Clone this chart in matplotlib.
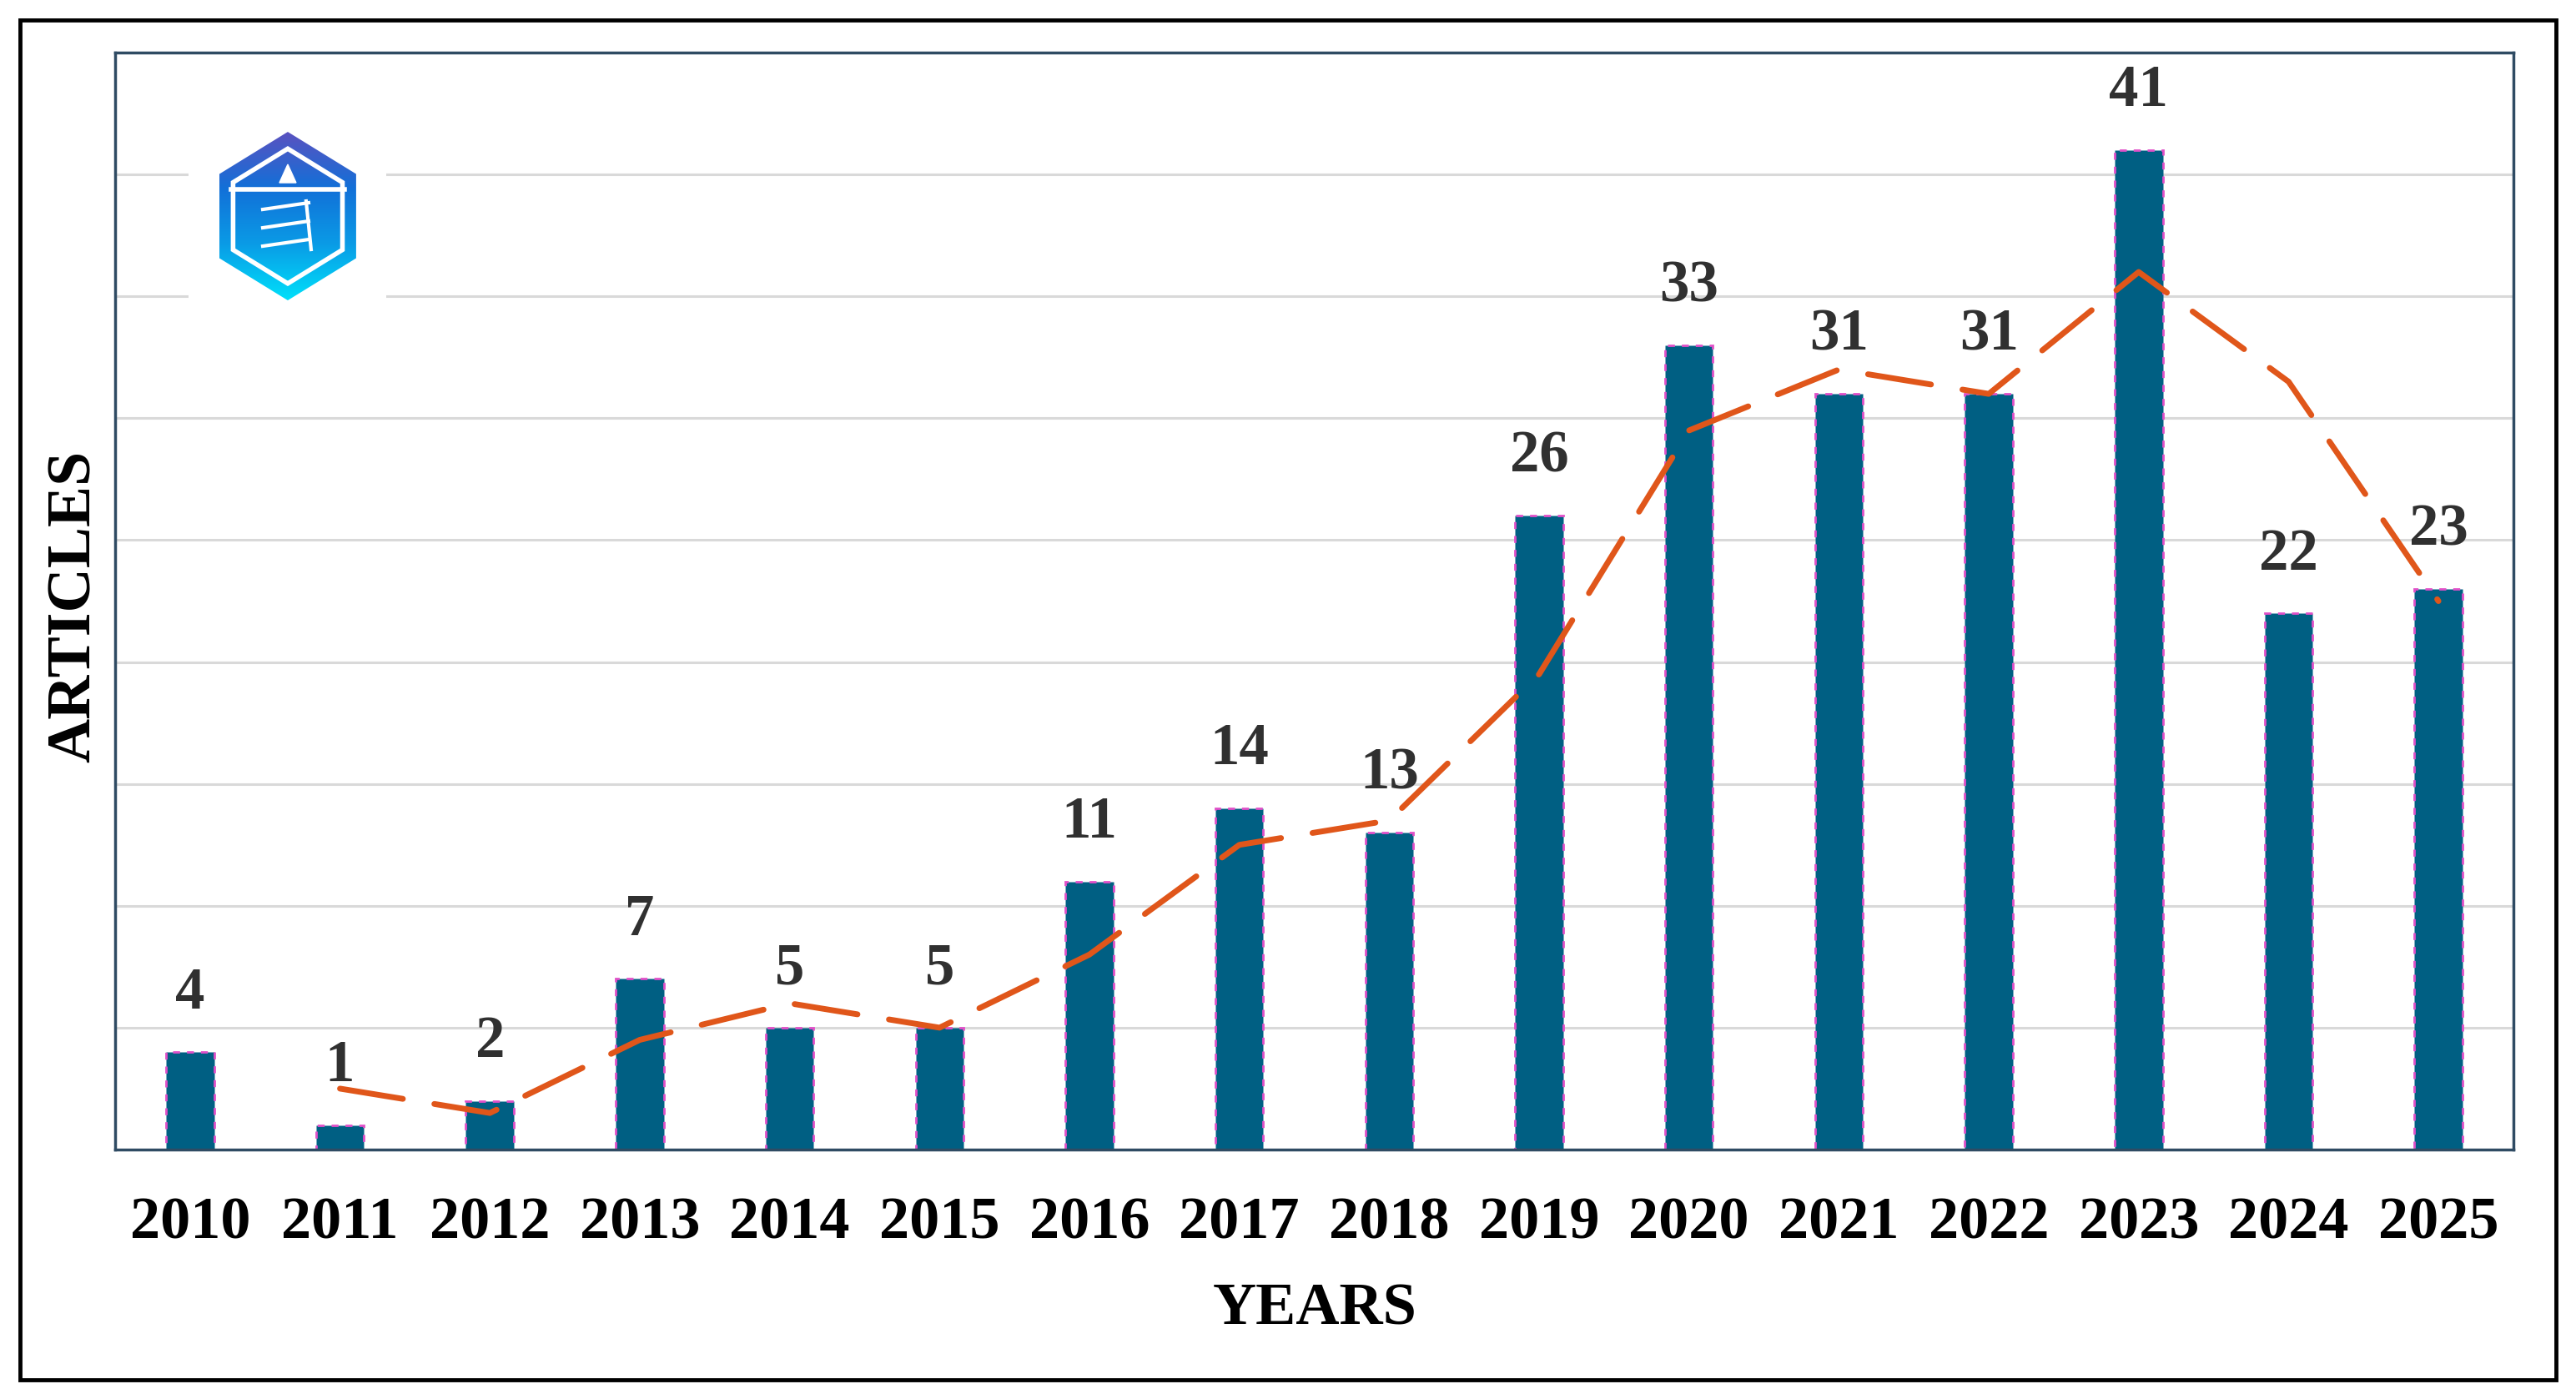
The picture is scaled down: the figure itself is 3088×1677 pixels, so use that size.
import numpy as np
import matplotlib.pyplot as plt
from matplotlib.patches import Rectangle, Polygon
from matplotlib.colors import LinearSegmentedColormap

years = ["2010", "2011", "2012", "2013", "2014", "2015", "2016", "2017",
         "2018", "2019", "2020", "2021", "2022", "2023", "2024", "2025"]
articles = [4, 1, 2, 7, 5, 5, 11, 14, 13, 26, 33, 31, 31, 41, 22, 23]
# 2-period moving average trend line (starts at 2011)
trend = [2.5, 1.5, 4.5, 6, 5, 8, 12.5, 13.5, 19.5, 29.5, 32, 31, 36, 31.5, 22.5]

serif = ["Liberation Serif", "DejaVu Serif"]
bar_color = "#005F83"
line_color = "#E0561A"
frame_color = "#2F4B63"

fig = plt.figure(figsize=(30.88, 16.77), dpi=100)
ax = fig.add_axes([0.0447, 0.1783, 0.931, 0.7841])

xs = np.arange(len(years))
ax.bar(xs, articles, width=0.32, color=bar_color, edgecolor="#E050C8",
       linewidth=2, linestyle=(0, (3, 3)), zorder=2)
ax.plot(xs[1:], trend, color=line_color, linewidth=5,
        linestyle=(0, (11, 5.5)), zorder=3, dash_capstyle="round")

for x, v in zip(xs, articles):
    ax.annotate(str(v), (x, v), xytext=(0, 27), textcoords="offset points",
                ha="center", va="bottom", fontsize=51, fontweight="bold",
                family=serif, color="#303030", zorder=4)

ax.set_xlim(-0.5, len(years) - 0.5)
ax.set_ylim(0, 45)
ax.set_yticks(range(5, 45, 5))
ax.yaxis.grid(True, color="#D9D9D9", linewidth=2.2, zorder=0)
ax.set_axisbelow(True)
ax.tick_params(axis="y", length=0, labelleft=False)
ax.set_xticks(xs)
ax.set_xticklabels(years, fontsize=52, fontweight="bold", family=serif)
ax.tick_params(axis="x", length=0, pad=41)
for s in ax.spines.values():
    s.set_color(frame_color)
    s.set_linewidth(2.5)

fig.text(0.5105, 0.064, "YEARS", ha="center", va="center", fontsize=52,
         fontweight="bold", family=serif)
fig.text(0.0292, 0.5665, "ARTICLES", ha="center", va="center", rotation=90,
         fontsize=53, fontweight="bold", family=serif)

# outer frame
fig.add_artist(Rectangle((0.0078, 0.0137), 0.9844, 0.972, transform=fig.transFigure,
                         fill=False, edgecolor="black", linewidth=3.5))

# logo
lax = fig.add_axes([0.0732, 0.771, 0.0767, 0.1586])
lax.set_xlim(0, 237)
lax.set_ylim(0, 266)
lax.axis("off")
lax.add_patch(Rectangle((0, 0), 237, 266, color="white", zorder=0))
cx, cy, hw, hh = 119, 125, 82, 101
hexv = [(cx, cy + hh), (cx + hw, cy + hh / 2), (cx + hw, cy - hh / 2),
        (cx, cy - hh), (cx - hw, cy - hh / 2), (cx - hw, cy + hh / 2)]
hexp = Polygon(hexv, closed=True, facecolor="none", edgecolor="none")
lax.add_patch(hexp)
grad = np.linspace(0, 1, 256).reshape(-1, 1)
cmap = LinearSegmentedColormap.from_list("logo", ["#5A52C0", "#1270D8", "#0A9BE6", "#00E0FA"])
im = lax.imshow(grad, extent=(cx - hw, cx + hw, cy - hh, cy + hh), origin="upper",
                cmap=cmap, aspect="auto", zorder=1)
im.set_clip_path(hexp)
s = 0.8
inner = [(cx + (px - cx) * s, cy + (py - cy) * s) for px, py in hexv]
lax.add_patch(Polygon(inner, closed=True, fill=False, edgecolor="white",
                      linewidth=4, zorder=2))
lax.plot([cx - 68, cx + 68], [cy + 32, cy + 32], color="white", lw=4, zorder=2)
lax.add_patch(Polygon([(cx - 10, cy + 40), (cx, cy + 62), (cx + 10, cy + 40)],
                      color="white", zorder=2))
for dy in (8, -14, -36):
    lax.plot([cx - 30, cx + 25], [cy + dy, cy + dy + 8], color="white",
             lw=3, zorder=2)
lax.plot([cx + 22, cx + 28], [cy + 18, cy - 40], color="white", lw=3, zorder=2)
lax.set_xlim(0, 237)
lax.set_ylim(0, 266)

fig.savefig("out.png", dpi=100)
